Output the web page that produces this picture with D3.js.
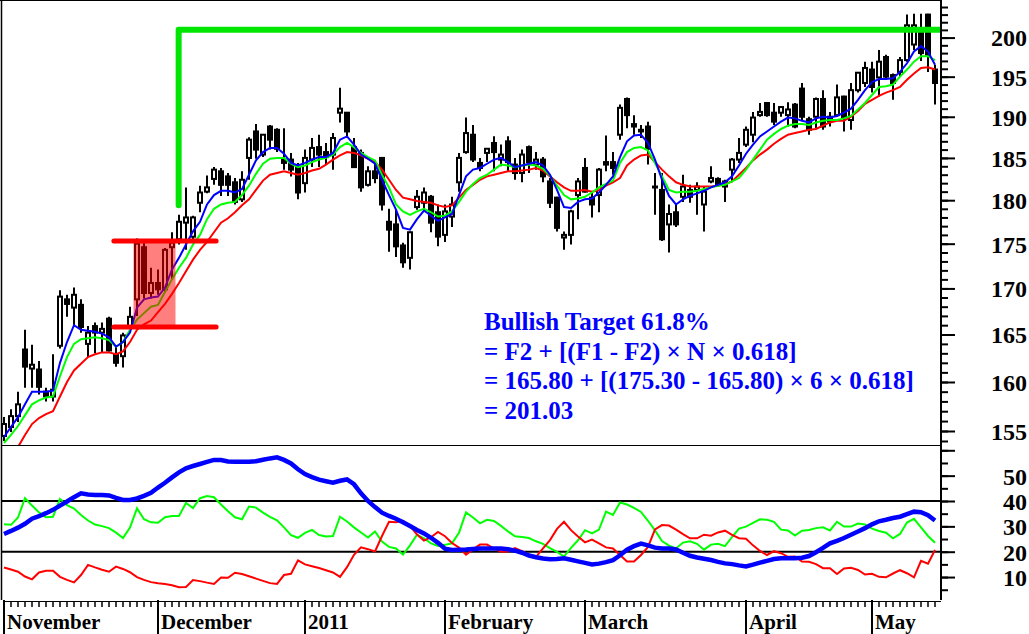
<!DOCTYPE html>
<html><head><meta charset="utf-8">
<script src="https://cdn.jsdelivr.net/npm/d3@7"></script>
<style>html,body{margin:0;padding:0;background:#fff;}svg{display:block;}</style>
</head><body><div id="chart"></div>
<script>
// ---- price candles (index 0 = first trading day shown) ----
const open = [154.5,155.4,156.5,163.4,161.4,161.3,159.0,158.5,163.8,168.8, 167.9,168.2,164.0,165.9,165.2,166.7,162.9,162.7,165.9,168.8, 174.6,169.5,170.6,169.9,174.6,175.5,177.4,175.8,179.7,181.0, 182.5,183.4,182.8,182.1,180.1,185.0,188.2,185.4,188.8,188.4, 184.8,184.8,183.9,182.0,184.8,186.3,185.7,185.4,190.5,190.5, 186.3,185.6,181.8,183.4,185.0,177.5,177.2,174.8,173.4,179.2, 179.7,180.4,178.6,176.0,178.1,182.1,185.7,187.8,184.4,185.6, 186.8,184.8,187.0,184.2,183.2,186.3,184.2,184.8,182.2,180.3, 175.7,176.0,180.6,183.8,180.3,180.6,184.5,184.5,187.8,192.2, 189.1,188.4,188.8,181.6,181.2,177.2,178.6,180.4,181.2,181.2, 179.5,182.2,182.5,182.2,183.6,184.8,186.6,187.8,190.2,191.7, 190.5,190.5,190.2,191.5,193.5,189.7,190.0,192.2,190.0,190.2, 192.5,189.6,193.3,194.2,195.9,194.9,197.5,195.2,195.6,197.1, 199.1,201.0,203.0,195.9];
const high = [156.4,157.2,159.0,165.5,163.9,162.2,159.4,162.9,169.8,169.3, 170.1,168.8,165.9,166.3,166.3,166.9,163.7,165.2,168.0,175.6, 175.3,172.3,172.1,174.5,176.3,178.3,181.5,178.2,181.7,182.9, 183.9,183.8,183.2,182.6,183.4,187.5,189.1,187.9,189.0,188.6, 188.6,185.6,184.4,186.0,187.4,187.8,186.8,188.0,193.6,190.6, 187.4,186.0,184.0,184.3,185.1,179.0,178.9,175.1,176.4,181.2, 181.5,180.6,179.5,179.5,180.4,185.6,189.9,189.0,185.0,186.2, 187.6,186.6,187.6,185.0,186.0,186.5,185.7,185.1,182.6,180.4, 176.4,178.9,182.6,185.0,180.9,183.8,187.7,185.7,191.5,192.4, 190.2,189.0,189.4,183.2,183.2,179.5,179.5,183.0,181.8,182.1, 181.6,184.0,182.7,182.4,185.0,187.4,188.8,190.6,191.7,191.8, 191.7,191.3,191.8,191.7,194.2,190.0,192.4,193.3,190.6,194.0, 192.6,194.2,195.6,196.9,196.9,198.4,197.8,195.4,197.5,203.0, 203.1,203.1,203.1,196.5];
const low = [154.0,154.9,155.9,159.4,159.4,158.7,158.0,158.0,163.5,166.9, 165.9,165.2,162.6,163.0,163.1,163.2,161.6,161.5,165.8,167.0, 168.9,168.9,169.3,169.5,171.0,174.9,174.3,175.2,178.6,180.8, 181.8,180.5,180.5,179.5,179.8,182.4,184.9,185.1,186.0,185.7, 183.6,182.8,180.1,180.9,183.9,183.9,184.2,183.6,189.3,187.6, 183.8,181.0,181.6,182.0,178.8,174.1,173.5,172.3,172.1,178.9, 178.9,176.3,174.7,175.2,176.9,181.0,185.5,184.5,183.4,184.5, 183.4,184.0,183.4,182.4,182.1,183.2,183.6,182.1,179.1,176.4, 174.3,174.9,177.8,180.9,178.0,178.6,183.4,183.0,187.2,188.6, 187.8,187.4,184.2,178.3,175.3,174.0,176.9,179.8,179.7,178.3, 176.4,182.0,181.6,179.8,182.1,184.4,186.3,186.9,190.0,190.0, 189.0,190.0,188.8,188.6,189.6,187.8,188.6,188.4,188.8,190.0, 188.2,188.4,193.0,193.7,193.0,192.5,194.6,192.1,195.0,196.9, 198.4,197.0,195.6,191.5];
const close = [155.7,156.5,157.7,161.6,161.8,159.5,158.5,159.2,169.1,168.3, 169.3,165.8,165.2,165.2,165.6,163.3,162.0,164.9,166.9,175.0, 169.5,170.6,169.9,174.3,175.1,177.5,178.0,178.0,180.9,181.5, 183.6,181.8,181.8,179.8,182.4,187.2,186.0,187.8,187.2,186.1, 184.4,183.6,180.9,185.0,186.2,185.4,185.1,187.4,191.0,188.2, 183.9,181.5,183.4,182.6,179.5,176.6,174.7,172.9,176.3,180.4, 180.9,177.4,175.8,178.7,179.5,185.0,188.0,184.8,183.8,186.1, 185.7,185.4,184.5,183.2,185.4,184.5,184.8,182.8,179.7,176.8, 176.0,178.7,182.2,181.0,179.5,183.6,184.2,183.8,191.1,190.2, 188.8,188.2,186.1,181.5,175.5,178.4,177.2,181.6,180.4,181.6, 181.0,182.6,181.8,181.6,184.8,185.6,188.4,189.9,190.6,190.2, 189.4,191.2,190.9,188.8,190.0,188.4,192.2,188.8,189.4,192.4, 189.9,193.3,195.5,196.1,193.7,196.9,195.0,194.2,197.1,201.6, 201.6,198.0,197.8,194.2];

// ---- moving averages ----
const maFast = [154.4,155.4,156.4,157.7,159.0,159.0,159.0,159.1,162.0,164.2, 166.0,165.5,165.4,165.3,165.1,164.7,163.7,164.2,165.2,167.9, 168.8,169.0,169.1,170.1,172.1,173.4,174.9,176.4,177.5,179.5, 180.6,181.1,181.1,180.9,181.3,183.0,184.7,185.7,186.2,186.2, 185.5,184.4,184.1,184.4,184.8,185.1,185.1,185.6,187.2,187.6, 186.6,185.4,184.9,184.3,182.4,180.6,178.9,176.8,176.6,177.8, 178.8,178.2,177.6,178.0,178.4,180.6,182.8,183.6,183.8,184.3, 184.8,185.0,184.5,183.9,184.1,184.3,184.5,184.1,183.0,181.2, 179.2,179.1,179.8,180.1,180.2,180.9,181.8,182.8,185.1,187.0, 187.7,187.8,186.8,184.8,182.4,180.5,179.5,180.1,180.5,180.8, 181.1,181.5,181.8,182.1,182.8,184.1,185.5,186.6,187.6,188.2, 188.8,189.4,189.9,189.8,189.5,189.3,189.8,190.0,189.9,190.1, 190.5,191.0,192.1,193.3,194.3,194.7,194.7,194.8,195.6,196.7, 198.2,198.9,198.2,196.5];
const maMid = [153.8,154.6,155.5,156.6,157.7,158.1,158.4,158.5,160.6,162.6, 164.0,164.5,164.6,164.7,164.6,164.4,163.7,164.2,165.5,166.6, 167.3,168.0,168.2,169.6,171.0,172.3,173.4,174.9,176.0,177.8, 179.0,179.5,179.7,179.8,180.6,181.7,183.1,184.3,184.9,185.0, 185.0,184.3,183.9,184.1,184.5,184.8,185.0,185.4,186.3,186.8, 186.3,185.6,185.1,184.7,183.0,181.5,179.5,178.7,178.3,178.7, 179.0,178.6,178.1,178.2,178.7,179.8,181.0,181.9,182.6,183.0, 183.6,184.2,184.1,183.9,184.1,184.2,184.1,183.7,182.9,181.7, 180.6,180.1,180.2,180.4,180.9,181.5,181.9,182.3,184.4,185.7, 186.2,186.3,185.9,184.4,182.8,181.2,180.9,181.0,181.0,181.1, 181.3,181.5,181.7,181.8,182.2,182.6,183.6,184.8,186.0,187.2, 187.9,188.5,188.9,189.1,189.1,189.0,189.3,189.5,189.6,189.6, 189.8,190.1,190.9,191.7,192.7,193.7,193.8,194.0,195.0,195.9, 196.9,197.6,197.6,197.1];
const maSlow = [150.2,152.0,153.4,154.6,155.7,156.3,156.7,157.0,158.5,160.0, 161.2,161.9,162.6,162.9,163.1,163.1,162.9,163.2,164.2,165.5, 166.1,166.5,167.4,168.3,169.4,170.6,171.9,173.2,174.3,175.2, 176.3,177.4,177.9,178.6,179.4,180.1,181.2,182.3,183.0,183.2, 183.4,183.2,183.0,183.2,183.5,183.7,184.2,184.8,185.3,185.7, 185.6,185.3,184.9,184.5,183.6,182.4,181.2,180.3,180.1,179.9, 179.8,179.7,179.4,179.2,179.4,180.3,181.2,181.8,182.4,182.8, 183.0,183.2,183.4,183.4,183.5,183.6,183.8,183.5,182.8,182.1, 181.5,181.1,181.1,181.2,181.0,181.2,181.7,182.1,182.6,184.1, 184.8,185.3,185.4,184.5,183.6,182.8,182.1,181.8,181.6,181.6, 181.6,181.6,181.7,181.9,182.2,183.0,183.8,184.7,185.4,186.0, 186.7,187.3,187.8,188.0,188.2,188.4,188.5,188.9,189.3,189.5, 189.5,190.0,190.7,191.6,192.1,192.6,193.0,193.3,193.7,194.6, 195.4,196.1,196.2,195.9];

// ---- lower panel: ADX, +DI, -DI ----
const adx = [27.0,28.2,29.5,31.0,33.0,34.0,35.2,36.5,38.2,39.8, 41.5,43.0,42.6,42.4,42.4,42.2,41.2,40.4,40.4,41.0, 42.0,43.2,45.3,47.2,49.3,51.3,52.9,53.8,54.6,55.4, 56.2,56.2,55.6,55.5,55.5,55.5,55.7,56.3,56.8,57.2, 56.2,54.8,52.5,50.6,49.4,48.4,47.8,47.2,48.0,48.5, 46.6,43.0,40.0,37.6,35.4,34.1,33.0,31.6,30.1,28.6, 27.2,25.5,23.5,21.2,20.7,20.8,20.9,21.1,21.3,21.3, 21.3,21.3,21.0,20.4,19.6,18.5,17.8,17.3,17.0,17.1, 17.4,16.8,16.2,15.6,15.0,15.3,15.9,16.7,18.6,20.8, 22.2,23.2,22.5,21.6,21.3,21.3,20.9,19.6,18.4,17.7, 17.2,16.7,16.0,15.4,15.1,14.6,14.2,14.9,15.7,16.4, 17.1,17.4,17.4,17.4,17.6,18.3,19.8,21.5,23.3,24.3, 25.4,26.7,28.0,29.3,30.8,32.0,32.6,33.3,33.8,34.8, 35.8,35.6,34.4,32.3];
const plusDI = [30.8,30.6,33.5,41.1,38.2,35.5,33.6,33.8,40.8,38.4, 37.0,34.5,32.3,30.7,30.1,29.3,27.5,25.4,29.5,37.1, 32.8,31.6,31.4,33.6,34.1,34.1,39.2,37.2,41.1,42.0, 41.5,38.6,36.0,33.6,32.8,37.8,37.4,35.4,33.7,32.4, 29.6,26.5,25.5,27.4,28.6,26.6,26.0,26.2,33.8,31.9, 29.6,27.6,25.6,28.0,24.0,21.9,21.3,18.9,22.5,26.7, 25.3,23.3,22.3,22.7,23.3,27.5,35.5,33.5,31.2,32.6, 32.1,30.2,28.0,26.1,25.8,25.4,24.1,23.1,21.4,19.9, 18.1,21.5,24.5,28.5,27.2,28.7,35.8,34.5,39.4,38.6, 37.3,35.7,32.2,28.4,24.2,22.4,21.3,23.6,24.1,23.1, 20.8,22.8,23.1,22.2,25.8,29.1,29.9,31.4,32.8,32.6, 31.8,28.7,28.4,26.4,28.3,28.6,29.3,29.6,28.4,31.8, 29.9,29.9,31.1,30.7,29.1,28.2,27.5,25.3,27.0,31.5, 33.0,29.6,26.2,23.5];
const minusDI = [13.8,13.0,12.1,10.2,9.1,11.8,12.5,12.5,10.1,8.9, 7.9,10.8,14.8,13.8,12.9,12.1,14.1,13.2,11.9,10.0, 8.9,8.0,7.6,7.3,6.8,6.0,6.1,8.8,8.4,7.8, 7.3,9.8,9.7,11.7,11.2,10.3,9.4,8.5,7.6,7.3, 10.8,11.3,16.6,15.0,14.3,13.6,12.7,11.8,10.1,13.9, 18.8,21.7,21.0,20.1,26.2,31.8,31.6,32.2,30.2,26.8, 24.4,25.7,27.8,26.1,23.4,21.6,18.8,20.9,22.8,22.8, 21.2,20.0,20.1,21.4,20.2,18.8,18.0,21.3,24.6,29.0, 31.8,28.5,26.0,23.7,24.8,23.3,21.7,21.3,18.7,16.1, 16.1,18.7,21.9,28.8,30.5,30.3,28.7,26.9,25.3,25.3, 26.7,26.3,27.6,28.3,26.6,25.3,25.1,22.5,20.3,18.7, 20.2,19.4,18.0,18.1,16.1,16.0,15.1,13.5,13.5,11.2, 13.4,13.7,12.8,11.0,11.3,10.1,9.9,11.4,12.7,11.5, 9.9,16.4,15.3,20.7];

// ---- axes ----
const priceTicks = [155,160,165,170,175,180,185,190,195,200];
const dmiTicks = [10,20,30,40,50];
const dmiLevels = [20,40];
const monthNames = ["November","December","2011","February","March","April","May"];
const monthStart = [0,22,43,63,83,106,124];

// ---- flag / target annotation ----
const flagHigh = 175.30, flagLow = 165.80, target = 201.03, poleCount = 6;
const flagFirst = 19, flagLast = 24;
const annotationLines = [
  "Bullish Target 61.8%",
  "= F2 + [(F1 - F2) \u00d7 N \u00d7 0.618]",
  "= 165.80 + [(175.30 - 165.80) \u00d7 6 \u00d7 0.618]",
  "= 201.03"
];

const W = 1029, H = 634;
const plotL = 1.5, plotR = 941, upperB = 445, lowerB = 600;
const N = close.length;

const svg = d3.select("#chart").append("svg")
  .attr("width", W).attr("height", H)
  .style("font-family", '"Liberation Serif","Times New Roman",serif');

const x = d3.scaleLinear().domain([0, N - 1]).range([4, 935]);
const yP = d3.scaleLog().domain([153.6, 204.93]).range([upperB, 0]);
const yD = d3.scaleLinear().domain([0.95, 62.09]).range([lowerB, upperB]);

const defs = svg.append("defs");
defs.append("clipPath").attr("id", "clipU").append("rect")
  .attr("x", plotL).attr("y", 0).attr("width", plotR - plotL).attr("height", upperB);
defs.append("clipPath").attr("id", "clipL").append("rect")
  .attr("x", plotL).attr("y", upperB).attr("width", plotR - plotL).attr("height", lowerB - upperB);

const idx = d3.range(N);

// ---- upper panel ----
const gU = svg.append("g").attr("clip-path", "url(#clipU)");
gU.selectAll("line.wick").data(idx).join("line").attr("class", "wick")
  .attr("x1", i => x(i)).attr("x2", i => x(i))
  .attr("y1", i => yP(high[i])).attr("y2", i => yP(low[i]))
  .attr("stroke", "#000").attr("stroke-width", 2);
gU.selectAll("rect.body").data(idx).join("rect").attr("class", "body")
  .attr("x", i => x(i) - 2).attr("width", 4)
  .attr("y", i => yP(Math.max(open[i], close[i])))
  .attr("height", i => Math.max(1, yP(Math.min(open[i], close[i])) - yP(Math.max(open[i], close[i]))))
  .attr("fill", i => close[i] >= open[i] ? "#fff" : "#000")
  .attr("stroke", "#000").attr("stroke-width", 2);

const lineP = d3.line().x((d, i) => x(i)).y(d => yP(d));
[[maSlow, "#ff0000"], [maMid, "#00ff00"], [maFast, "#0000ff"]].forEach(([arr, col]) => {
  gU.append("path").datum(arr).attr("d", lineP)
    .attr("fill", "none").attr("stroke", col).attr("stroke-width", 2);
});

// flag box
gU.append("rect")
  .attr("x", x(flagFirst - 0.5)).attr("width", x(flagLast + 0.5) - x(flagFirst - 0.5))
  .attr("y", yP(flagHigh)).attr("height", yP(flagLow) - yP(flagHigh))
  .attr("fill", "rgba(255,0,0,0.5)");
[flagHigh, flagLow].forEach(v => {
  gU.append("line")
    .attr("x1", x(flagFirst - 3.3)).attr("x2", x(flagLast + 6.3))
    .attr("y1", yP(v)).attr("y2", yP(v))
    .attr("stroke", "#ff0000").attr("stroke-width", 5).attr("stroke-linecap", "round");
});
// target line
gU.append("path")
  .attr("d", `M${x(flagLast + 0.95)},${yP(179.4)}V${yP(target)}H${plotR + 2}`)
  .attr("fill", "none").attr("stroke", "#00e600").attr("stroke-width", 6)
  .attr("stroke-linecap", "round").attr("stroke-linejoin", "round");

// annotation
const ann = svg.append("text").attr("fill", "#0000ff").attr("font-weight", "bold").attr("font-size", 25);
annotationLines.forEach((t, k) => {
  ann.append("tspan").attr("x", 484).attr("y", 330 + k * 29.7).text(t);
});

// ---- lower panel ----
const gL = svg.append("g").attr("clip-path", "url(#clipL)");
dmiLevels.forEach(v => {
  gL.append("line").attr("x1", plotL).attr("x2", plotR).attr("y1", yD(v)).attr("y2", yD(v))
    .attr("stroke", "#000").attr("stroke-width", 2);
});
const lineD = d3.line().x((d, i) => x(i)).y(d => yD(d));
gL.append("path").datum(plusDI).attr("d", lineD).attr("fill", "none").attr("stroke", "#00ff00").attr("stroke-width", 2);
gL.append("path").datum(minusDI).attr("d", lineD).attr("fill", "none").attr("stroke", "#ff0000").attr("stroke-width", 2);
gL.append("path").datum(adx).attr("d", lineD).attr("fill", "none").attr("stroke", "#0000ff").attr("stroke-width", 4.5);

// ---- frame ----
const frame = svg.append("g").attr("stroke", "#000").attr("fill", "none");
frame.append("line").attr("x1", 0).attr("x2", plotR).attr("y1", 0.5).attr("y2", 0.5).attr("stroke-width", 1);
frame.append("line").attr("x1", plotL).attr("x2", plotL).attr("y1", 0).attr("y2", lowerB).attr("stroke-width", 1.5);
frame.append("line").attr("x1", plotL).attr("x2", plotR).attr("y1", upperB + 0.5).attr("y2", upperB + 0.5).attr("stroke-width", 1);

// ---- right axes ----
function styleAxis(g) {
  g.select(".domain").remove();
  g.selectAll(".tick line").attr("stroke", "#000").attr("stroke-width", 2);
}
const rightG = svg.append("g").attr("transform", `translate(${plotR},0)`);
rightG.append("g").call(d3.axisRight(yP).tickValues(d3.range(154, 205)).tickSize(7).tickFormat(""))
  .call(styleAxis);
rightG.append("g").call(d3.axisRight(yD).tickValues(d3.range(5, 61, 5)).tickSize(7).tickFormat(""))
  .call(styleAxis);
const pAx = rightG.append("g").call(d3.axisRight(yP).tickValues(priceTicks).tickSize(14).tickFormat(d3.format("d")))
  .call(styleAxis);
const dAx = rightG.append("g").call(d3.axisRight(yD).tickValues(dmiTicks.concat([60])).tickSize(14)
  .tickFormat(d => d === 60 ? "" : d)).call(styleAxis);
[pAx, dAx].forEach(a => a.selectAll(".tick text")
  .attr("x", 86).attr("text-anchor", "end").attr("dy", "0.35em")
  .attr("font-family", '"Liberation Serif","Times New Roman",serif')
  .attr("font-weight", "bold").attr("font-size", 24).attr("fill", "#000"));
rightG.append("line").attr("x1", 0).attr("x2", 0).attr("y1", 0).attr("y2", lowerB)
  .attr("stroke", "#000").attr("stroke-width", 2);

// ---- bottom axis ----
const bot = svg.append("g");
bot.append("line").attr("x1", 3).attr("x2", plotR).attr("y1", 601.5).attr("y2", 601.5)
  .attr("stroke", "#000").attr("stroke-width", 1);
bot.selectAll("line.tk").data(idx).join("line").attr("class", "tk")
  .attr("x1", i => x(i)).attr("x2", i => x(i)).attr("y1", 601).attr("y2", 607)
  .attr("stroke", "#000").attr("stroke-width", 1.5);
bot.selectAll("line.sep").data(monthStart).join("line").attr("class", "sep")
  .attr("x1", i => x(i)).attr("x2", i => x(i)).attr("y1", 600).attr("y2", 634)
  .attr("stroke", "#000").attr("stroke-width", 2);
bot.selectAll("text").data(monthStart).join("text")
  .attr("x", i => x(i) + 3).attr("y", 629)
  .attr("font-weight", "bold").attr("font-size", 21).attr("fill", "#000")
  .text((d, k) => monthNames[k]);
</script>
</body></html>
